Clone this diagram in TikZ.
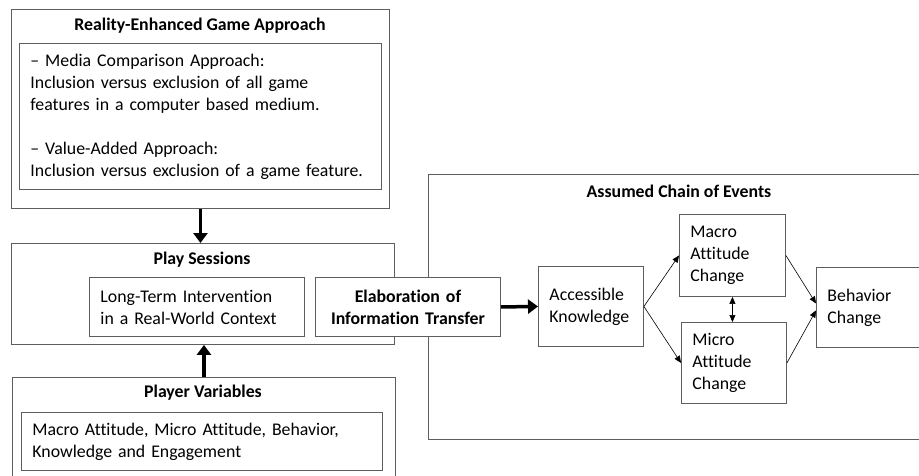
\documentclass[tikz,border=0pt]{standalone}
\usepackage{fontspec}
\setmainfont{Carlito}[Ligatures={NoCommon}]
\usetikzlibrary{arrows.meta,calc}
\definecolor{frame}{HTML}{5E5E5E}
\tikzset{
  txt/.style={font=\fontsize{17.8}{22}\selectfont},
  boxed/.style={draw=frame, line width=0.9pt, fill=white, anchor=north west,
                inner sep=0pt, txt},
  title/.style={font=\fontsize{17.8}{22}\selectfont\bfseries, inner sep=0pt},
  bigarrow/.style={line width=3.5pt, -{Triangle[length=10pt,width=14pt]}},
  smallarrow/.style={line width=0.6pt, -{Triangle[length=7pt,width=6pt]}},
}
\begin{document}
\begin{tikzpicture}[x=1pt,y=-1pt]
\useasboundingbox (0,0) rectangle (919,475);
\clip (0,0) rectangle (919,475);

% Reality-enhanced game approach
\node[boxed, minimum width=378pt, minimum height=199pt] (rega) at (11,9) {};
\node[title] (regat) at (200,26) {Reality-Enhanced Game Approach};
\node[boxed, minimum width=362pt, minimum height=146pt, text width=340pt,
      inner xsep=11pt, align=left] (regain) at (19,43)
  {-- Media Comparison Approach:\\Inclusion versus exclusion of all game\\features in a computer based medium.\\[22pt]-- Value-Added Approach:\\Inclusion versus exclusion of a game feature.};

% Play sessions
\node[boxed, minimum width=383pt, minimum height=101pt] (play) at (11,243) {};
\node[title] (playt) at (202,260) {Play Sessions};
\node[boxed, minimum width=215pt, minimum height=59pt, text width=193pt,
      inner xsep=11pt, align=left] (lti) at (89,277)
  {Long-Term Intervention\\in a Real-World Context};

% Player variables
\node[boxed, minimum width=383pt, minimum height=120pt] (pv) at (12,377) {};
\node[title] (pvt) at (203,393) {Player Variables};
\node[boxed, minimum width=361pt, minimum height=58pt, text width=339pt,
      inner xsep=11pt, align=left] (pvin) at (21,412)
  {Macro Attitude, Micro Attitude, Behavior,\\Knowledge and Engagement};

% Assumed chain of events
\node[boxed, minimum width=520pt, minimum height=265pt] (chain) at (428,174) {};
\node[title] (chaint) at (679,191) {Assumed Chain of Events};

\node[boxed, minimum width=185pt, minimum height=59pt, text width=185pt,
      align=center, font=\fontsize{17.8}{22}\selectfont\bfseries] (elab) at (315,277)
  {Elaboration of\\Information Transfer};

\node[boxed, minimum width=105pt, minimum height=80pt, text width=83pt,
      inner xsep=11pt, align=left] (ak) at (538,266)
  {Accessible\\Knowledge};
\node[boxed, minimum width=106pt, minimum height=82pt, text width=84pt,
      inner xsep=11pt, align=left] (macro) at (679,214)
  {Macro\\Attitude\\Change};
\node[boxed, minimum width=105pt, minimum height=81pt, text width=83pt,
      inner xsep=11pt, align=left] (micro) at (681,322)
  {Micro\\Attitude\\Change};
\node[boxed, minimum width=130pt, minimum height=80pt, text width=108pt,
      inner xsep=11pt, align=left] (beh) at (816,267)
  {Behavior\\Change};

% Connectors
\draw[bigarrow] (rega.south) -- (rega.south |- play.north);
\draw[bigarrow] (pv.north) -- (pv.north |- play.south);
\draw[bigarrow] (elab.east) -- (ak.west);
\draw[smallarrow] (ak.east) -- (macro.west);
\draw[smallarrow] (ak.east) -- (micro.west);
\draw[smallarrow] (macro.east) -- ([yshift=4pt]beh.west);
\draw[smallarrow] (micro.east) -- ([yshift=-3pt]beh.west);
\draw[line width=0.6pt, {Triangle[length=7pt,width=6pt]}-{Triangle[length=7pt,width=6pt]}]
  (macro.south) -- (macro.south |- micro.north);
\end{tikzpicture}
\end{document}
